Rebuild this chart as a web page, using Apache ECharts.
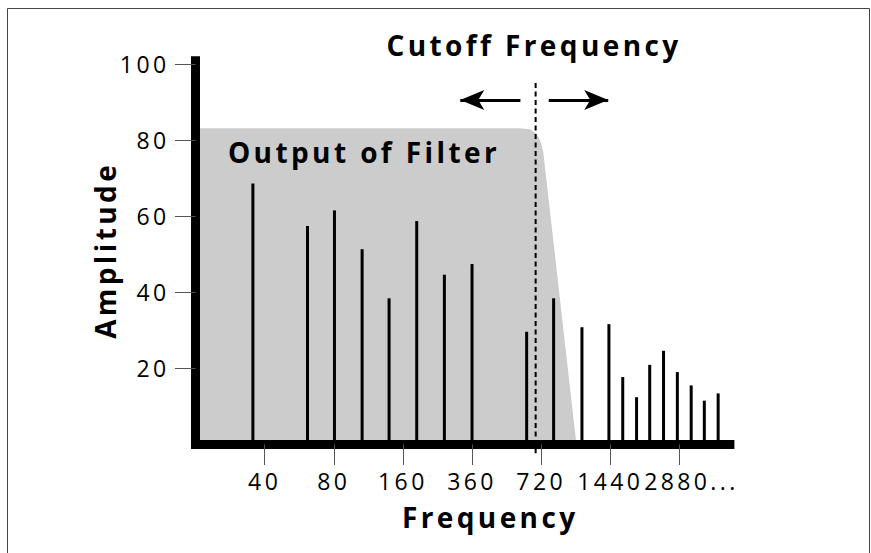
<!DOCTYPE html>
<html>
<head>
<meta charset="utf-8">
<script src="https://cdn.jsdelivr.net/npm/echarts@6/dist/echarts.min.js"></script>
<style>
  html, body { margin: 0; padding: 0; background: #fff; }
  #chart { width: 871px; height: 553px; }
  #chart text { letter-spacing: 3.4px; }
</style>
</head>
<body>
<div id="chart"></div>
<script>
// frequency axis: tick positions and their labels
var tickPos = [1, 2, 3, 4, 5, 6, 7];
var tickLabels = ['40', '80', '160', '360', '720', '1440', '2880...'];
var ampTicks = [20, 40, 60, 80, 100];

// harmonics (position on frequency axis, amplitude)
var harmX = [0.83, 1.62, 2.01, 2.41, 2.80, 3.20, 3.60, 4.00, 4.79, 5.18, 5.59, 5.98, 6.18, 6.38, 6.57, 6.77, 6.97, 7.17, 7.36, 7.56];
var harmY = [68.6, 57.4, 61.5, 51.3, 38.4, 58.7, 44.6, 47.4, 29.6, 38.4, 30.8, 31.6, 17.7, 12.4, 20.9, 24.6, 19.0, 15.5, 11.5, 13.4];

// low pass filter outline: flat top, rounded knee, then the slope
var filterX = [0, 4.69, 4.84, 4.92, 4.97, 5.00, 5.03, 5.51];
var filterY = [83.1, 83.1, 82.8, 81.8, 80.5, 79.0, 76.9, 0];

// cutoff marker (x, top, bottom) and the two arrows
var cutoff = [4.92, 95, -2.3];
var arrowLeft = [[3.83, 90.5], [4.70, 90.5]];
var arrowRight = [[5.11, 90.5], [5.97, 90.5]];

var FONT = '"Open Sans", "DejaVu Sans", sans-serif';

var chart = echarts.init(document.getElementById('chart'), null, {renderer: 'svg'});

var option = {
  animation: false,
  backgroundColor: '#fff',
  grid: {left: 195.5, right: 141.1, top: 56.3, bottom: 108.6},
  graphic: [
    {
      type: 'rect',
      shape: {x: 7.5, y: 8.5, width: 862, height: 600},
      style: {fill: 'none', stroke: '#444', lineWidth: 1}
    },
    {
      type: 'text',
      x: 534, y: 45,
      style: {
        text: 'Cutoff Frequency', fill: '#000',
        font: 'bold 28px ' + FONT,
        align: 'center', verticalAlign: 'middle',
        textAlign: 'center', textVerticalAlign: 'middle'
      }
    },
    {
      type: 'text',
      x: 364, y: 152, z: 10,
      style: {
        text: 'Output of Filter', fill: '#000',
        font: 'bold 28px ' + FONT,
        align: 'center', verticalAlign: 'middle',
        textAlign: 'center', textVerticalAlign: 'middle'
      }
    }
  ],
  xAxis: {
    type: 'value', min: 0, max: 7.73, z: 3,
    name: 'Frequency', nameLocation: 'middle', nameGap: 59,
    nameTextStyle: {fontFamily: FONT, fontSize: 28, fontWeight: 'bold', color: '#000', padding: [0, 0, 0, 55]},
    axisLine: {show: true, onZero: false, lineStyle: {color: '#000', width: 9, cap: 'square'}},
    axisTick: {show: true, length: 20.6, customValues: tickPos, lineStyle: {color: '#555', width: 1}},
    axisLabel: {
      customValues: tickPos, margin: 25,
      fontFamily: FONT, fontSize: 23, color: '#000',
      formatter: function (v) {
        var s = tickLabels[tickPos.indexOf(v)];
        return v === 7 ? '{last|' + s + '}' : s;
      },
      rich: {
        last: {fontFamily: FONT, fontSize: 23, color: '#000', padding: [0, 0, 0, 24]}
      }
    },
    splitLine: {show: false}
  },
  yAxis: {
    type: 'value', min: 0, max: 102, z: 3,
    name: 'Amplitude', nameLocation: 'middle', nameRotate: 90, nameGap: 61,
    nameTextStyle: {fontFamily: FONT, fontSize: 28, fontWeight: 'bold', color: '#000'},
    axisLine: {show: true, lineStyle: {color: '#000', width: 9, cap: 'butt'}},
    axisTick: {show: true, length: 20.5, customValues: ampTicks, lineStyle: {color: '#555', width: 1}},
    axisLabel: {customValues: ampTicks, margin: 26, fontFamily: FONT, fontSize: 23, color: '#000'},
    splitLine: {show: false}
  },
  series: [
    {
      name: 'Output of Filter',
      type: 'line',
      z: 1,
      symbol: 'none',
      lineStyle: {width: 0},
      areaStyle: {color: '#cccccc', opacity: 1},
      data: filterX.map(function (x, i) { return [x, filterY[i]]; })
    },
    {
      name: 'Harmonics',
      type: 'bar',
      z: 2,
      barWidth: 3,
      itemStyle: {color: '#000'},
      data: harmX.map(function (x, i) { return [x, harmY[i]]; }),
      markLine: {
        silent: true,
        label: {show: false},
        lineStyle: {color: '#000', width: 3, type: 'solid'},
        data: [
          [{coord: arrowLeft[0], symbol: 'arrow', symbolSize: [15, 24]}, {coord: arrowLeft[1], symbol: 'none'}],
          [{coord: arrowRight[0], symbol: 'none'}, {coord: arrowRight[1], symbol: 'arrow', symbolSize: [15, 24]}]
        ]
      }
    },
    {
      name: 'Cutoff',
      type: 'custom',
      z: 2,
      clip: false,
      encode: {x: 0, y: [1, 2]},
      data: [cutoff],
      renderItem: function (params, api) {
        var a = api.coord([api.value(0), api.value(1)]);
        var b = api.coord([api.value(0), api.value(2)]);
        return {
          type: 'line',
          shape: {x1: a[0], y1: a[1], x2: b[0], y2: b[1]},
          style: {stroke: '#000', lineWidth: 2, lineDash: [5, 3.5]}
        };
      }
    }
  ]
};

chart.setOption(option);
</script>
</body>
</html>
